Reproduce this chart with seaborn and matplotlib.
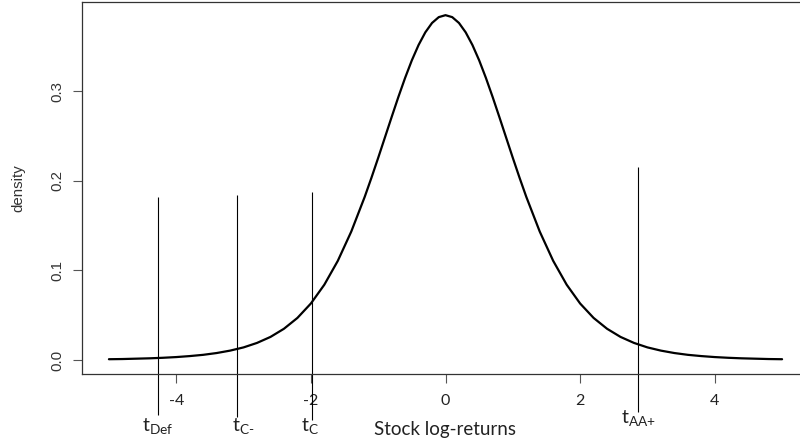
import matplotlib
matplotlib.use("Agg")
import matplotlib.pyplot as plt
import seaborn as sns
import pandas as pd

# Density of stock log-returns
returns = [-5.0, -4.8, -4.6, -4.4, -4.2, -4.0, -3.8, -3.6, -3.4, -3.2, -3.0,
           -2.8, -2.6, -2.4, -2.2, -2.0, -1.8, -1.6, -1.4, -1.2, -1.1, -1.0,
           -0.9, -0.8, -0.7, -0.6, -0.5, -0.4, -0.3, -0.2, -0.1, 0.0,
           0.1, 0.2, 0.3, 0.4, 0.5, 0.6, 0.7, 0.8, 0.9, 1.0, 1.1, 1.2,
           1.4, 1.6, 1.8, 2.0, 2.2, 2.4, 2.6, 2.8, 3.0, 3.2, 3.4, 3.6,
           3.8, 4.0, 4.2, 4.4, 4.6, 4.8, 5.0]
density = [0.0009, 0.0011, 0.0015, 0.0019, 0.0025, 0.0033, 0.0044, 0.0058,
           0.0078, 0.0105, 0.0141, 0.0191, 0.0258, 0.0349, 0.0470, 0.0631,
           0.0841, 0.1107, 0.1434, 0.1822, 0.2035, 0.2257, 0.2485, 0.2713,
           0.2937, 0.3150, 0.3346, 0.3517, 0.3658, 0.3763, 0.3828, 0.3850,
           0.3828, 0.3763, 0.3658, 0.3517, 0.3346, 0.3150, 0.2937, 0.2713,
           0.2485, 0.2257, 0.2035, 0.1822, 0.1434, 0.1107, 0.0841, 0.0631,
           0.0470, 0.0349, 0.0258, 0.0191, 0.0141, 0.0105, 0.0078, 0.0058,
           0.0044, 0.0033, 0.0025, 0.0019, 0.0015, 0.0011, 0.0009]

# Rating thresholds marked on the return axis
threshold_names = ["Def", "C-", "C", "AA+"]
threshold_x = [-4.27, -3.10, -1.99, 2.86]
threshold_top = [0.182, 0.184, 0.188, 0.215]
threshold_bottom = [-0.0615, -0.0634, -0.067, -0.058]

x_ticks = [-4, -2, 0, 2, 4]
y_ticks = [0.0, 0.1, 0.2, 0.3]

sns.set_theme(style="white")
plt.rcParams["font.family"] = ["Lato", "DejaVu Sans"]
plt.rcParams["mathtext.fontset"] = "custom"
plt.rcParams["mathtext.rm"] = "Lato"

W, H = 800, 446
fig = plt.figure(figsize=(W / 100, H / 100), dpi=100)
ax = fig.add_axes([82 / W, (H - 374) / H, 727 / W, 372 / H])

df = pd.DataFrame({"ret": returns, "dens": density})
sns.lineplot(data=df, x="ret", y="dens", ax=ax, color="black",
             linewidth=1.6, estimator=None, sort=False)

ax.set_xlim(-5.4, 5.4)
ax.set_ylim(-0.0156, 0.3997)
ax.set_xlabel("")
ax.set_ylabel("")

for side in ["left", "right", "top", "bottom"]:
    ax.spines[side].set_visible(True)
    ax.spines[side].set_color("#333333")
    ax.spines[side].set_linewidth(0.9)

ax.set_xticks(x_ticks)
ax.set_xticklabels([f"{v:d}" for v in x_ticks], fontfamily="Lato",
                   fontsize=11.5, color="#222222")
ax.set_yticks(y_ticks)
ax.set_yticklabels([f"{v:.1f}" for v in y_ticks], fontfamily="Liberation Sans",
                   fontsize=10.8, color="#333333", rotation=90, va="center")
ax.tick_params(axis="both", direction="out", length=6.5, width=0.8,
               color="#555555", bottom=True, left=True)
ax.tick_params(axis="x", pad=8)
ax.tick_params(axis="y", pad=6.5)

# Threshold markers extend below the frame into the label area
ax.vlines(threshold_x, threshold_bottom, threshold_top, colors="black",
          linewidth=0.8, clip_on=False)

label_base = [432, 432, 432, 424]
label_shift = [0, 6, -2, 0]
for name, xv, base, dx in zip(threshold_names, threshold_x, label_base, label_shift):
    ax.annotate(r"$\mathregular{t}_{\text{" + name + "}}$",
                xy=(xv, H - base), xycoords=("data", "figure pixels"),
                xytext=(dx * 0.72, 0), textcoords="offset points",
                ha="center", va="baseline", fontsize=14, color="#222222",
                annotation_clip=False)

fig.text(445 / W, 1 - 421 / H, "Stock log-returns", ha="center", va="top",
         fontsize=13.5, color="#222222", fontfamily="Lato")
fig.text(18 / W, 1 - 188 / H, "density", rotation=90, ha="center", va="center",
         fontsize=10.8, color="#333333", fontfamily="Liberation Sans")

fig.savefig("out.png", dpi=100)
